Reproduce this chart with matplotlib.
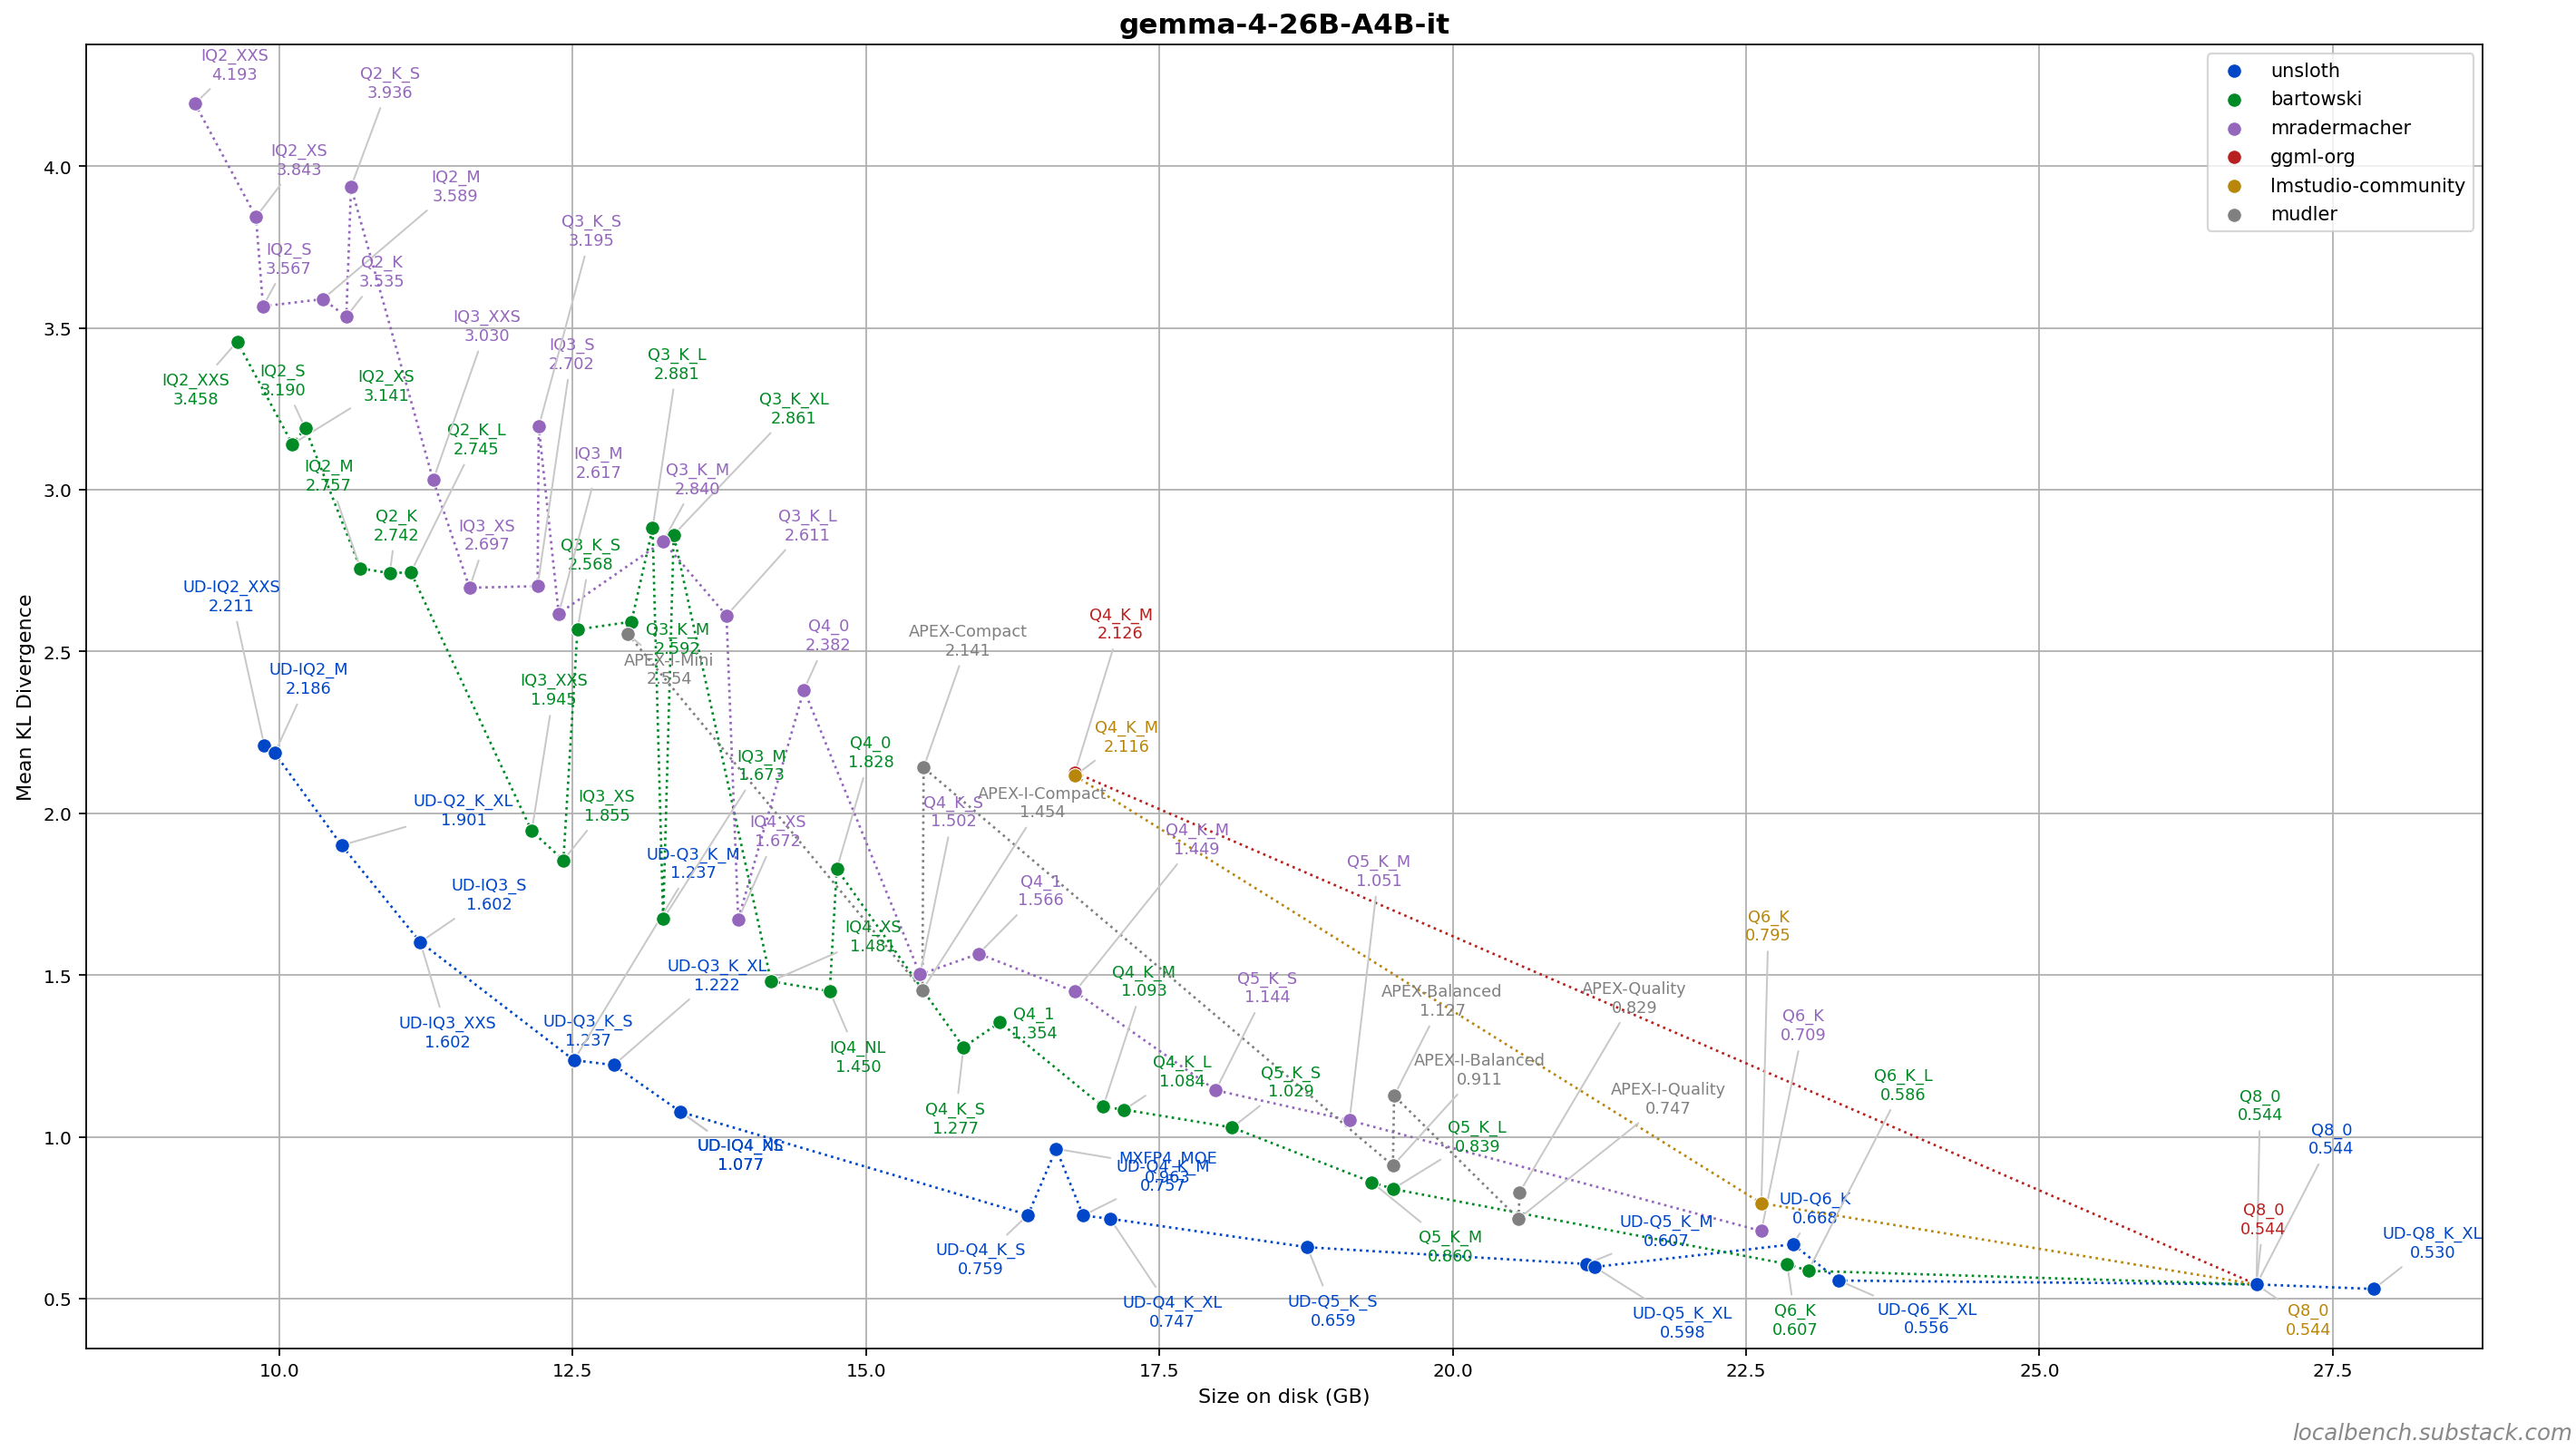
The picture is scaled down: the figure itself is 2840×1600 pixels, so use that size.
import matplotlib
matplotlib.use('Agg')
import matplotlib.pyplot as plt

# --- data: size on disk (GB) and mean KL divergence per quant, by uploader ---
unsloth_names = ['UD-IQ2_XXS', 'UD-IQ2_M', 'UD-Q2_K_XL', 'UD-IQ3_XXS', 'UD-IQ3_S',
                 'UD-Q3_K_S', 'UD-Q3_K_M', 'UD-Q3_K_XL', 'UD-IQ4_XS', 'UD-IQ4_NL',
                 'UD-Q4_K_S', 'MXFP4_MOE', 'UD-Q4_K_M', 'UD-Q4_K_XL', 'UD-Q5_K_S',
                 'UD-Q5_K_M', 'UD-Q5_K_XL', 'UD-Q6_K', 'UD-Q6_K_XL', 'Q8_0', 'UD-Q8_K_XL']
unsloth_size = [9.87, 9.96, 10.53, 11.20, 11.20, 12.51, 12.51, 12.85, 13.42, 13.42,
                16.38, 16.62, 16.85, 17.08, 18.76, 21.14, 21.21, 22.90, 23.29, 26.85, 27.85]
unsloth_kl = [2.211, 2.186, 1.901, 1.602, 1.602, 1.237, 1.237, 1.222, 1.077, 1.077,
              0.759, 0.963, 0.757, 0.747, 0.659, 0.607, 0.598, 0.668, 0.556, 0.544, 0.530]

bartowski_names = ['IQ2_XXS', 'IQ2_XS', 'IQ2_S', 'IQ2_M', 'Q2_K', 'Q2_K_L', 'IQ3_XXS',
                   'IQ3_XS', 'Q3_K_S', 'Q3_K_M', 'Q3_K_L', 'IQ3_M', 'Q3_K_XL', 'IQ4_XS',
                   'IQ4_NL', 'Q4_0', 'Q4_K_S', 'Q4_1', 'Q4_K_M', 'Q4_K_L', 'Q5_K_S',
                   'Q5_K_M', 'Q5_K_L', 'Q6_K', 'Q6_K_L', 'Q8_0']
bartowski_size = [9.64, 10.11, 10.22, 10.69, 10.94, 11.12, 12.15, 12.42, 12.54, 13.00,
                  13.18, 13.27, 13.36, 14.19, 14.69, 14.75, 15.83, 16.14, 17.02, 17.20,
                  18.12, 19.31, 19.49, 22.85, 23.03, 26.85]
bartowski_kl = [3.458, 3.141, 3.190, 2.757, 2.742, 2.745, 1.945, 1.855, 2.568, 2.592,
                2.881, 1.673, 2.861, 1.481, 1.450, 1.828, 1.277, 1.354, 1.093, 1.084,
                1.029, 0.860, 0.839, 0.607, 0.586, 0.544]

mrader_names = ['IQ2_XXS', 'IQ2_XS', 'IQ2_S', 'IQ2_M', 'Q2_K', 'Q2_K_S', 'IQ3_XXS',
                'IQ3_XS', 'IQ3_S', 'Q3_K_S', 'IQ3_M', 'Q3_K_M', 'Q3_K_L', 'IQ4_XS',
                'Q4_0', 'Q4_K_S', 'Q4_1', 'Q4_K_M', 'Q5_K_S', 'Q5_K_M', 'Q6_K']
mrader_size = [9.28, 9.80, 9.86, 10.37, 10.57, 10.61, 11.31, 11.62, 12.20, 12.21,
               12.38, 13.27, 13.81, 13.91, 14.47, 15.46, 15.96, 16.78, 17.98, 19.12, 22.63]
mrader_kl = [4.193, 3.843, 3.567, 3.589, 3.535, 3.936, 3.030, 2.697, 2.702, 3.195,
             2.617, 2.840, 2.611, 1.672, 2.382, 1.502, 1.566, 1.449, 1.144, 1.051, 0.709]

ggml_names = ['Q4_K_M', 'Q8_0']
ggml_size = [16.78, 26.85]
ggml_kl = [2.126, 0.544]

lmstudio_names = ['Q4_K_M', 'Q6_K', 'Q8_0']
lmstudio_size = [16.78, 22.63, 26.85]
lmstudio_kl = [2.116, 0.795, 0.544]

mudler_names = ['APEX-I-Mini', 'APEX-I-Compact', 'APEX-Compact', 'APEX-I-Balanced',
                'APEX-Balanced', 'APEX-I-Quality', 'APEX-Quality']
mudler_size = [12.97, 15.48, 15.49, 19.49, 19.50, 20.56, 20.57]
mudler_kl = [2.554, 1.454, 2.141, 0.911, 1.127, 0.747, 0.829]

series = [
    ('unsloth', unsloth_names, unsloth_size, unsloth_kl, '#0046c8'),
    ('bartowski', bartowski_names, bartowski_size, bartowski_kl, '#008a25'),
    ('mradermacher', mrader_names, mrader_size, mrader_kl, '#9467bd'),
    ('ggml-org', ggml_names, ggml_size, ggml_kl, '#b8201f'),
    ('lmstudio-community', lmstudio_names, lmstudio_size, lmstudio_kl, '#b8860b'),
    ('mudler', mudler_names, mudler_size, mudler_kl, '#808080'),
]

# where each callout sits (data coords), picked by hand to keep them apart
label_pos = {
    ('unsloth', 'UD-IQ2_XXS'): (9.59, 2.671), ('unsloth', 'UD-IQ2_M'): (10.25, 2.415),
    ('unsloth', 'UD-Q2_K_XL'): (11.57, 2.010), ('unsloth', 'UD-IQ3_S'): (11.79, 1.748),
    ('unsloth', 'UD-IQ3_XXS'): (11.43, 1.323), ('unsloth', 'UD-Q3_K_M'): (13.53, 1.845),
    ('unsloth', 'UD-Q3_K_XL'): (13.73, 1.500), ('unsloth', 'UD-Q3_K_S'): (12.63, 1.329),
    ('unsloth', 'UD-IQ4_XS'): (13.93, 0.945), ('unsloth', 'UD-IQ4_NL'): (13.93, 0.945),
    ('unsloth', 'MXFP4_MOE'): (17.57, 0.905), ('unsloth', 'UD-Q4_K_M'): (17.53, 0.880),
    ('unsloth', 'UD-Q4_K_S'): (15.98, 0.622), ('unsloth', 'UD-Q4_K_XL'): (17.61, 0.459),
    ('unsloth', 'UD-Q5_K_S'): (18.98, 0.462), ('unsloth', 'UD-Q5_K_M'): (21.82, 0.708),
    ('unsloth', 'UD-Q5_K_XL'): (21.96, 0.425), ('unsloth', 'UD-Q6_K'): (23.09, 0.779),
    ('unsloth', 'UD-Q6_K_XL'): (24.04, 0.438), ('unsloth', 'Q8_0'): (27.49, 0.993),
    ('unsloth', 'UD-Q8_K_XL'): (28.35, 0.672),

    ('bartowski', 'IQ2_XXS'): (9.285, 3.310), ('bartowski', 'IQ2_S'): (10.03, 3.338),
    ('bartowski', 'IQ2_XS'): (10.91, 3.320), ('bartowski', 'IQ2_M'): (10.42, 3.043),
    ('bartowski', 'Q2_K_L'): (11.68, 3.155), ('bartowski', 'Q3_K_L'): (13.39, 3.389),
    ('bartowski', 'Q3_K_XL'): (14.385, 3.251), ('bartowski', 'Q2_K'): (10.995, 2.890),
    ('bartowski', 'Q3_K_S'): (12.65, 2.800), ('bartowski', 'Q3_K_M'): (13.39, 2.539),
    ('bartowski', 'IQ3_XXS'): (12.34, 2.381), ('bartowski', 'IQ3_XS'): (12.79, 2.023),
    ('bartowski', 'IQ3_M'): (14.105, 2.148), ('bartowski', 'Q4_0'): (15.04, 2.188),
    ('bartowski', 'IQ4_XS'): (15.06, 1.619), ('bartowski', 'IQ4_NL'): (14.93, 1.247),
    ('bartowski', 'Q4_K_S'): (15.76, 1.056), ('bartowski', 'Q4_1'): (16.43, 1.351),
    ('bartowski', 'Q4_K_M'): (17.37, 1.481), ('bartowski', 'Q4_K_L'): (17.69, 1.201),
    ('bartowski', 'Q5_K_S'): (18.62, 1.170), ('bartowski', 'Q5_K_L'): (20.21, 1.000),
    ('bartowski', 'Q5_K_M'): (19.98, 0.662), ('bartowski', 'Q6_K_L'): (23.84, 1.161),
    ('bartowski', 'Q6_K'): (22.92, 0.433), ('bartowski', 'Q8_0'): (26.88, 1.097),

    ('mradermacher', 'IQ2_XXS'): (9.62, 4.314), ('mradermacher', 'Q2_K_S'): (10.94, 4.258),
    ('mradermacher', 'IQ2_XS'): (10.17, 4.019), ('mradermacher', 'IQ2_M'): (11.50, 3.938),
    ('mradermacher', 'Q3_K_S'): (12.66, 3.800), ('mradermacher', 'IQ2_S'): (10.08, 3.714),
    ('mradermacher', 'Q2_K'): (10.87, 3.673), ('mradermacher', 'IQ3_XXS'): (11.77, 3.506),
    ('mradermacher', 'IQ3_S'): (12.49, 3.419), ('mradermacher', 'IQ3_M'): (12.72, 3.083),
    ('mradermacher', 'Q3_K_M'): (13.56, 3.033), ('mradermacher', 'IQ3_XS'): (11.77, 2.860),
    ('mradermacher', 'Q3_K_L'): (14.50, 2.890), ('mradermacher', 'Q4_0'): (14.68, 2.549),
    ('mradermacher', 'Q4_K_S'): (15.745, 2.005), ('mradermacher', 'IQ4_XS'): (14.245, 1.944),
    ('mradermacher', 'Q4_K_M'): (17.82, 1.919), ('mradermacher', 'Q4_1'): (16.49, 1.761),
    ('mradermacher', 'Q5_K_M'): (19.37, 1.822), ('mradermacher', 'Q5_K_S'): (18.42, 1.461),
    ('mradermacher', 'Q6_K'): (22.99, 1.344),

    ('ggml-org', 'Q4_K_M'): (17.17, 2.585), ('ggml-org', 'Q8_0'): (26.91, 0.746),

    ('lmstudio-community', 'Q4_K_M'): (17.22, 2.237),
    ('lmstudio-community', 'Q6_K'): (22.69, 1.652),
    ('lmstudio-community', 'Q8_0'): (27.29, 0.433),

    ('mudler', 'APEX-Compact'): (15.87, 2.534), ('mudler', 'APEX-I-Mini'): (13.32, 2.445),
    ('mudler', 'APEX-I-Compact'): (16.50, 2.033), ('mudler', 'APEX-Balanced'): (19.91, 1.420),
    ('mudler', 'APEX-I-Balanced'): (20.23, 1.207), ('mudler', 'APEX-Quality'): (21.55, 1.430),
    ('mudler', 'APEX-I-Quality'): (21.84, 1.117),
}

fig = plt.figure(figsize=(17.75, 10.006), dpi=160)
ax = fig.add_axes([0.0334, 0.0708, 0.9304, 0.898])

for name, labels, sizes, kls, color in series:
    order = sorted(range(len(sizes)), key=lambda i: sizes[i])
    xs = [sizes[i] for i in order]
    ys = [kls[i] for i in order]
    ax.plot(xs, ys, linestyle=':', color=color, lw=1.2, zorder=2)
    z = 5 if name == 'unsloth' else 4
    ax.scatter(sizes, kls, s=50, color=color, edgecolors='white', linewidths=0.5,
               label=name, zorder=z)
    for lab, x, y in zip(labels, sizes, kls):
        tx, ty = label_pos[(name, lab)]
        ax.annotate(f"{lab}\n{y:.3f}", xy=(x, y), xytext=(tx, ty), textcoords='data',
                    ha='center', va='center', fontsize=8, color=color, zorder=3,
                    arrowprops=dict(arrowstyle='-', color='#c8c8c8', lw=0.9,
                                    shrinkA=2, shrinkB=3))

ax.set_xlabel('Size on disk (GB)', fontsize=10)
ax.set_ylabel('Mean KL Divergence', fontsize=10)
ax.set_title('gemma-4-26B-A4B-it', fontsize=14, fontweight='bold')
ax.tick_params(labelsize=9)
ax.grid(True)
ax.set_axisbelow(True)
ax.legend(loc='upper right', fontsize=9.4, handletextpad=0.9, labelspacing=0.56)

fig.text(0.9985, 0.005, 'localbench.substack.com', ha='right', va='bottom',
         fontsize=11, style='italic', color='#888888')

plt.savefig('out.png', dpi=160)
plt.close()
